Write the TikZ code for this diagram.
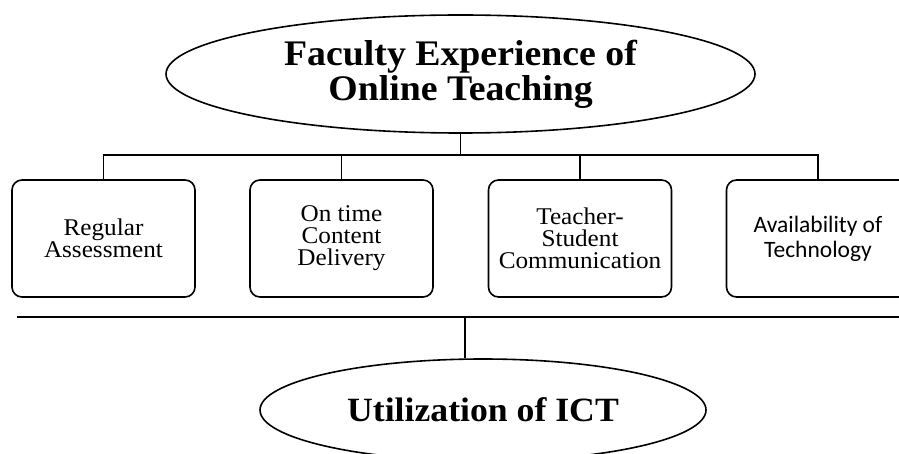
\documentclass[tikz,border=0pt]{standalone}
\usepackage{fontspec}
\setmainfont{Liberation Serif}[FakeStretch=1.05]
\newfontfamily\calib{Carlito}
\usetikzlibrary{shapes.geometric}
\begin{document}
\begin{tikzpicture}[x=1pt,y=-1pt,
  oval/.style={ellipse, draw, line width=1.6pt, inner sep=0pt, align=center,
    font=\bfseries\fontsize{36}{35}\selectfont},
  factor/.style={rectangle, draw, line width=1.6pt, rounded corners=10pt,
    minimum width=183pt, minimum height=117pt, inner sep=0pt, align=center,
    font=\fontsize{24}{22}\selectfont},
  link/.style={line width=1.6pt},
  bar/.style={line width=2.4pt}]
\useasboundingbox (0,0) rectangle (899,454);
\clip (0,0) rectangle (899,454);

\node[oval, minimum width=589pt, minimum height=118pt] (top) at (460.5,74)
  {Faculty Experience of\\Online Teaching};

\node[factor] (b1) at (103.5,238.5) {Regular\\Assessment};
\node[factor] (b2) at (341.5,238.5) {On time\\Content\\Delivery};
\node[factor] (b3) at (580,238.5) {Teacher-\\Student\\Communication};
\node[factor, font=\calib\fontsize{23.5}{25}\selectfont] (b4) at (818,238.5)
  {Availability of\\Technology};

\node[oval, minimum width=446pt, minimum height=102pt,
  font=\bfseries\fontsize{34}{35}\selectfont] (bot) at (483,410)
  {Utilization of ICT};

\coordinate (j1) at (top.south |- 0,155);
\draw[link] (top.south) -- (j1);
\draw[link] (b1.north) |- (j1) -| (b4.north);
\draw[link] (b2.north) -- (b2.north |- j1);
\draw[link] (b3.north) -- (b3.north |- j1);

\coordinate (L) at (17,317);
\coordinate (R) at (905,317);
\coordinate (m) at (465,317);
\draw[bar] (L) -- (R);
\draw[link] (m) -- (m |- bot.north);
\end{tikzpicture}
\end{document}
